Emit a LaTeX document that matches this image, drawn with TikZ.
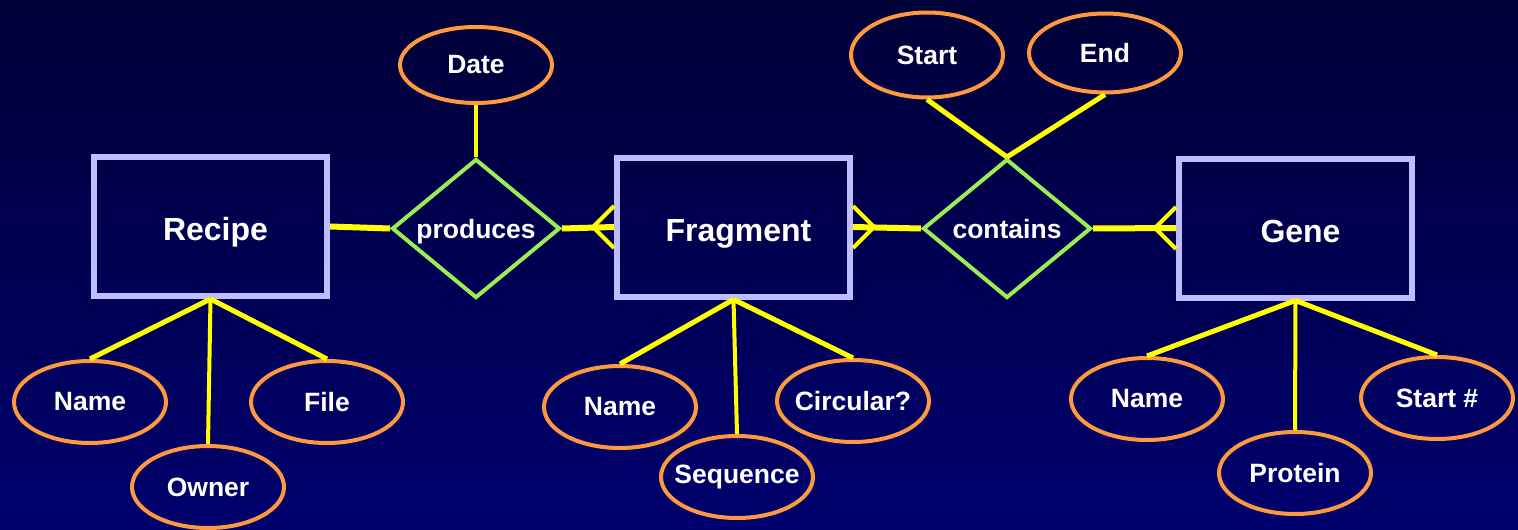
\documentclass[tikz,border=0pt]{standalone}
\usepackage{fontspec}
\setmainfont{Liberation Sans}
\usetikzlibrary{shapes.geometric,positioning,calc}
\definecolor{fondoa}{HTML}{000038}
\definecolor{fondob}{HTML}{00006E}
\definecolor{lavanda}{HTML}{BDBDFF}
\definecolor{verde}{HTML}{99EE55}
\definecolor{naranja}{HTML}{FF9940}
\definecolor{amarillo}{HTML}{FFFF00}
\tikzset{
  entidad/.style={draw=lavanda,line width=6pt,minimum width=233pt,minimum height=139pt,
    text=white,font=\bfseries\fontsize{32}{36}\selectfont,text height=30pt,text depth=2pt,
    execute at begin node={\hspace*{10pt}}},
  relacion/.style={diamond,draw=verde,line width=4pt,minimum width=168pt,minimum height=139pt,
    aspect=1.2,inner sep=0pt,text=white,font=\bfseries\fontsize{26.5}{30}\selectfont,
    text height=20pt,text depth=0pt},
  atributo/.style={ellipse,draw=naranja,line width=4pt,minimum width=152pt,minimum height=82pt,
    inner xsep=-20pt,inner ysep=0pt,text=white,font=\bfseries\fontsize{26.5}{30}\selectfont},
  enlace/.style={draw=amarillo,line width=5pt},
}
% pata de gallo: #1 ancla, #2 lado (-1 izquierda, 1 derecha)
\newcommand{\muchos}[2]{%
  \draw[enlace,line width=4pt] ($(#1)+(#2*21,0)$) -- ($(#1)+(0,-21)$);
  \draw[enlace,line width=4pt] ($(#1)+(#2*21,0)$) -- ($(#1)+(0,21)$);}

\begin{document}
\begin{tikzpicture}[x=1pt,y=-1pt]
  % fondo
  \path[use as bounding box] (0,0) rectangle (1518,530);
  \shade[top color=fondoa,bottom color=fondob] (0,0) rectangle (1518,530);
  % entidades
  \node[entidad] (receta) at (210.5,226.5) {Recipe};
  \node[entidad] (frag) at (733.5,227) {Fragment};
  \node[entidad] (gen) at (1295.5,228) {Gene};
  % relaciones
  \node[relacion] (produce) at (476,228.5) {produces};
  \node[relacion] (contiene) at (1007,228.5) {contains};
  % atributos
  \node[atributo,minimum height=76pt] (fecha) at (476,65) {Date};
  \node[atributo,minimum height=85pt] (inicio) at (927,55) {Start};
  \node[atributo,minimum height=79pt] (fin) at (1105,53) {End};
  \node[atributo] (rnombre) at (90,402) {Name};
  \node[atributo] (duenio) at (208,487) {Owner};
  \node[atributo] (archivo) at (327,402) {File};
  \node[atributo] (fnombre) at (620,407) {Name};
  \node[atributo] (secuencia) at (737,477) {Sequence};
  \node[atributo] (circular) at (853,401) {Circular?};
  \node[atributo] (gnombre) at (1147,399) {Name};
  \node[atributo] (proteina) at (1295,473) {Protein};
  \node[atributo] (posicion) at (1437,398) {Start \#};
  % enlaces
  \draw[enlace,line width=6pt] (receta.east) -- (produce.west);
  \draw[enlace,line width=6pt] (produce.east) -- (frag.west);
  \draw[enlace,line width=6pt] (frag.east) -- (contiene.west);
  \draw[enlace,line width=6pt] (contiene.east) -- (gen.west);
  \muchos{frag.west}{-1}
  \muchos{frag.east}{1}
  \muchos{gen.west}{-1}
  \draw[enlace,line width=4pt] (fecha.south) -- (produce.north);
  \draw[enlace] (inicio.south) -- (contiene.north);
  \draw[enlace] (fin.south) -- (contiene.north);
  \foreach \a in {rnombre,archivo} \draw[enlace] (receta.south) -- (\a.north);
  \draw[enlace,line width=4pt] (receta.south) -- (duenio.north);
  \foreach \a in {fnombre,circular} \draw[enlace] (frag.south) -- (\a.north);
  \draw[enlace,line width=4pt] (frag.south) -- (secuencia.north);
  \foreach \a in {gnombre,posicion} \draw[enlace] (gen.south) -- (\a.north);
  \draw[enlace,line width=4pt] (gen.south) -- (proteina.north);
\end{tikzpicture}
\end{document}
